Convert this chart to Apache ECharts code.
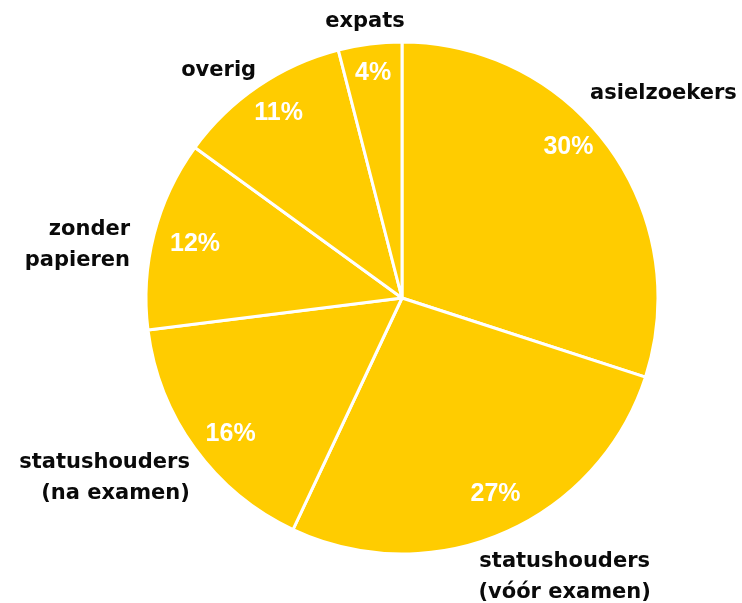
<!DOCTYPE html>
<html>
<head>
<meta charset="utf-8">
<script src="https://cdn.jsdelivr.net/npm/echarts@6/dist/echarts.min.js"></script>
<style>
  html, body { margin: 0; padding: 0; background: #fff; }
  #chart { width: 742px; height: 603px; }
</style>
</head>
<body>
<div id="chart"></div>
<script>
// groepen, met de klok mee vanaf 12 uur
const categories = [
  'asielzoekers',
  'statushouders\n(vóór examen)',
  'statushouders\n(na examen)',
  'zonder\npapieren',
  'overig',
  'expats'
]
const shares = [30, 27, 16, 12, 11, 4]

// labelverschuivingen (alleen opmaak)
const nameNudge = [
  { dx: -24, dy: -54 },
  { dx: 56, dy: 44, align: 'center' },
  { dx: 0, dy: 30 },
  { dx: -19, dy: 11 },
  { dx: 3, dy: -16 },
  { dx: 0, dy: -22, align: 'center' }
]
const pctNudge = [
  { dx: -14, dy: -20 }, { dx: 5, dy: -9 }, { dx: 9, dy: 5 }, { dx: 9, dy: 2 }, { dx: 2, dy: 0 }, { dx: -1, dy: -4 }
]

const YELLOW = '#ffcc00'
const pieData = categories.map((name, i) => ({ name, value: shares[i] }))

const chart = echarts.init(document.getElementById('chart'))
chart.setOption({
  animation: false,
  series: [
    {
      name: 'groepen',
      type: 'pie',
      center: [402, 298],
      radius: [0, 256],
      startAngle: 90,
      clockwise: true,
      avoidLabelOverlap: false,
      itemStyle: { color: YELLOW, borderColor: '#fff', borderWidth: 3 },
      label: {
        show: true,
        position: 'outside',
        formatter: '{b}',
        color: '#0a0a0a',
        fontFamily: 'DejaVu Sans',
        fontWeight: 'bold',
        fontSize: 21,
        lineHeight: 31
      },
      labelLine: { show: false, length: 0, length2: 0 },
      labelLayout: (p) => nameNudge[p.dataIndex],
      emphasis: { disabled: true },
      data: pieData
    },
    {
      name: 'percentages',
      type: 'pie',
      silent: true,
      center: [402, 298],
      radius: [184, 256],
      startAngle: 90,
      clockwise: true,
      itemStyle: { color: 'rgba(0,0,0,0)', borderWidth: 0 },
      label: {
        show: true,
        position: 'inside',
        formatter: '{c}%',
        color: '#fff',
        fontFamily: 'Liberation Sans',
        fontWeight: 'bold',
        fontSize: 25
      },
      labelLine: { show: false },
      labelLayout: (p) => pctNudge[p.dataIndex],
      emphasis: { disabled: true },
      data: pieData
    }
  ]
})
</script>
</body>
</html>
